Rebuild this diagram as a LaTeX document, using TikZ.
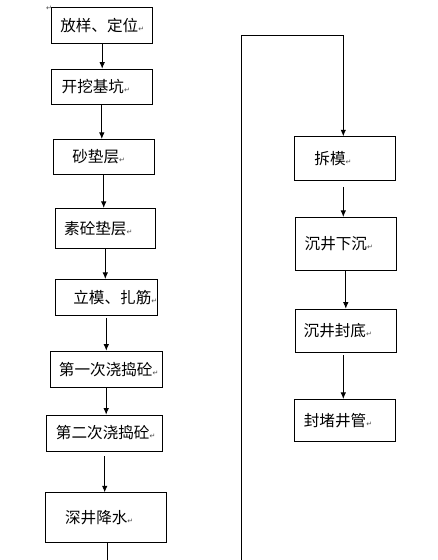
\documentclass[tikz,border=0pt]{standalone}
\usepackage{fontspec}
\usepackage{xcolor}
\usepackage{tikz}
\usetikzlibrary{arrows.meta}
\newfontfamily\cjk{Noto Sans CJK SC}
\newfontfamily\symfont{DejaVu Sans}
\newcommand{\retmark}{{\symfont\fontsize{7}{7}\selectfont\color{black!70}↵}}
\tikzset{
  stepbox/.style={draw, line width=0.8pt, inner sep=0pt, font=\cjk\fontsize{15.6}{18}\selectfont},
  flow/.style={line width=0.8pt, -{Latex[length=6.5pt,width=5.5pt]}},
  plain/.style={line width=0.8pt}
}

\begin{document}
\begin{tikzpicture}[x=1pt, y=-1pt]
\useasboundingbox[fill=white] (0,0) rectangle (437,560);

\node[inner sep=0pt] (mark) at (49,8) {\retmark};

\node[stepbox, minimum width=101pt, minimum height=36pt] (fy) at (102.2,25.3) {放样、定位\retmark};
\node[stepbox, minimum width=101.7pt, minimum height=35.3pt] (kw) at (101.8,86.7) {开挖基坑\retmark\hspace*{12pt}};
\node[stepbox, minimum width=100.7pt, minimum height=34.7pt] (sd) at (103.7,156.7) {砂垫层\retmark\hspace*{10pt}};
\node[stepbox, minimum width=100.7pt, minimum height=40pt] (sq) at (105.3,228.3) {素砼垫层\retmark\hspace*{14pt}};
\node[stepbox, minimum width=102.7pt, minimum height=35.7pt] (lm) at (106.3,297.2) {\hspace*{18pt}立模、扎筋\retmark};
\node[stepbox, minimum width=112.3pt, minimum height=36.3pt] (jz1) at (106.2,369.2) {\hspace*{5pt}第一次浇捣砼\retmark};
\node[stepbox, minimum width=116pt, minimum height=36pt] (jz2) at (104.7,433) {\hspace*{2pt}第二次浇捣砼\retmark};
\node[stepbox, minimum width=121pt, minimum height=50pt] (js) at (106.2,517.7) {深井降水\retmark\hspace*{14pt}};

\node[stepbox, minimum width=101.4pt, minimum height=43.3pt] (cm) at (345,158.3) {拆模\retmark\hspace*{24pt}};
\node[stepbox, minimum width=101pt, minimum height=52.7pt] (xc) at (345.8,243.7) {沉井下沉\retmark\hspace*{14pt}};
\node[stepbox, minimum width=101pt, minimum height=43.3pt] (fd) at (345.8,330.7) {沉井封底\retmark\hspace*{16pt}};
\node[stepbox, minimum width=101.4pt, minimum height=41.7pt] (fg) at (345,420.2) {封堵井管\retmark\hspace*{14pt}};

\coordinate (low1) at (107.3,560);
\coordinate (low2) at (241.7,560);
\coordinate (top) at (241.7,35);

\draw[flow] (fy.south) -- (fy.south |- kw.north);
\draw[flow] (kw.south) -- (kw.south |- sd.north);
\draw[flow] (sd.south) -- (sd.south |- sq.north);
\draw[flow] (sq.south) -- (sq.south |- lm.north);
\draw[flow, shorten <=2.5pt] (lm.south) -- (lm.south |- jz1.north);
\draw[flow] (jz1.south) -- (jz1.south |- jz2.north);
\draw[flow, shorten <=5pt] (jz2.south) -- (jz2.south |- js.north);
\draw[plain] (js.south -| low1) -- (low1);
\draw[flow] (low2) -- (top) -| ([xshift=-1.7pt]cm.north);
\draw[flow, shorten <=6.5pt] ([xshift=-1.7pt]cm.south) -- ([xshift=-1.7pt]cm.south |- xc.north);
\draw[flow] (xc.south) -- (xc.south |- fd.north);
\draw[flow, shorten <=2.7pt] ([xshift=-2.5pt]fd.south) -- ([xshift=-2.5pt]fd.south |- fg.north);
\end{tikzpicture}
\end{document}
